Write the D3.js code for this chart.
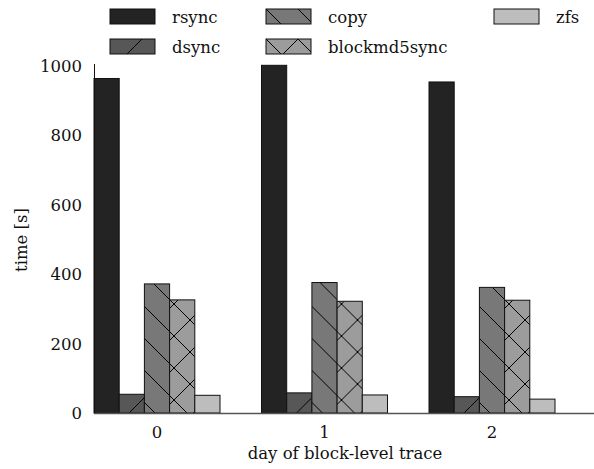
<!DOCTYPE html>
<html>
<head>
<meta charset="utf-8">
<script src="https://cdn.jsdelivr.net/npm/d3@7"></script>
<style>
  body { margin: 0; background: #fff; }
  svg text { font-family: "DejaVu Serif", serif; fill: #111; }
</style>
</head>
<body>
<svg id="chart" width="594" height="469"></svg>
<script>
// data
const days = ['0', '1', '2'];
const seriesNames = ['rsync', 'dsync', 'copy', 'blockmd5sync', 'zfs'];
const rsync = [964, 1002, 954];
const dsync = [54, 58, 47];
const copy = [372, 376, 362];
const blockmd5sync = [326, 322, 325];
const zfs = [51, 52, 40];
const yTicks = [0, 200, 400, 600, 800, 1000];

const values = [rsync, dsync, copy, blockmd5sync, zfs];
const fills = ['#232323', '#575757', '#787878', '#9c9c9c', '#bdbdbd'];
const hatch = [null, 'fwd', 'back', 'cross', null];

const svg = d3.select('#chart');
const left = 94, bottom = 413, groupW = 126;

const y = d3.scaleLinear().domain([0, 1000]).range([bottom, 66]);
// left edge of each day's group
const x0 = d3.scalePoint().domain(days).range([94, 429]);
const x1 = d3.scaleBand().domain(seriesNames).range([0, groupW]);

// hatch patterns
const defs = svg.append('defs');
function pattern(id, bg, lines) {
  const p = defs.append('pattern').attr('id', id)
    .attr('patternUnits', 'userSpaceOnUse').attr('width', 32).attr('height', 32);
  p.append('rect').attr('width', 32).attr('height', 32).attr('fill', bg);
  lines.forEach(d => p.append('path').attr('d', d).attr('stroke', '#000').attr('stroke-width', 1).attr('fill', 'none'));
}
const back = ['M-8,-8L40,40', 'M-8,24L8,40', 'M24,-8L40,8'];
const fwd = ['M-8,40L40,-8', 'M-8,8L8,-8', 'M24,40L40,24'];
pattern('h-fwd', fills[1], fwd);
pattern('h-back', fills[2], back);
pattern('h-cross', fills[3], back.concat(fwd));

function fillFor(i) {
  return hatch[i] ? `url(#h-${hatch[i]})` : fills[i];
}

// bars
const groups = svg.append('g').selectAll('g').data(days).join('g')
  .attr('transform', d => `translate(${x0(d)},0)`);

groups.selectAll('rect').data((d, di) => seriesNames.map((s, si) => ({ s, si, v: values[si][di] })))
  .join('rect')
  .attr('x', d => x1(d.s))
  .attr('y', d => y(d.v))
  .attr('width', x1.bandwidth())
  .attr('height', d => bottom - y(d.v))
  .attr('fill', d => fillFor(d.si))
  .attr('stroke', '#111')
  .attr('stroke-width', 1);

// axes
svg.append('line').attr('x1', left).attr('x2', 594).attr('y1', bottom + 0.5).attr('y2', bottom + 0.5)
  .attr('stroke', '#555').attr('stroke-width', 1.5);
svg.append('line').attr('x1', left + 0.5).attr('x2', left + 0.5).attr('y1', 64).attr('y2', bottom)
  .attr('stroke', '#111').attr('stroke-width', 1);

svg.append('g').selectAll('text').data(yTicks).join('text')
  .attr('x', 82).attr('y', d => y(d)).attr('dy', '0.36em')
  .attr('text-anchor', 'end').attr('font-size', 16.5).text(d => d);

svg.append('g').selectAll('text').data(days).join('text')
  .attr('x', d => x0(d) + groupW / 2).attr('y', 432).attr('dy', '0.36em')
  .attr('text-anchor', 'middle').attr('font-size', 16.5).text(d => d);

svg.append('text').attr('transform', 'translate(21,240) rotate(-90)')
  .attr('text-anchor', 'middle').attr('dy', '0.36em').attr('font-size', 16.5).text('time [s]');

svg.append('text').attr('x', 345).attr('y', 453).attr('dy', '0.36em')
  .attr('text-anchor', 'middle').attr('font-size', 16.5).text('day of block-level trace');

// legend
const legendPos = [[110, 9], [110, 39], [266, 9], [266, 39], [494, 9]];
const leg = svg.append('g').selectAll('g').data(seriesNames).join('g')
  .attr('transform', (d, i) => `translate(${legendPos[i][0]},${legendPos[i][1]})`);
leg.append('rect').attr('width', 45).attr('height', 15)
  .attr('fill', (d, i) => fillFor(i)).attr('stroke', '#111').attr('stroke-width', 1);
leg.append('text').attr('x', 62).attr('y', 8).attr('dy', '0.36em')
  .attr('font-size', 16.5).text(d => d);
</script>
</body>
</html>
